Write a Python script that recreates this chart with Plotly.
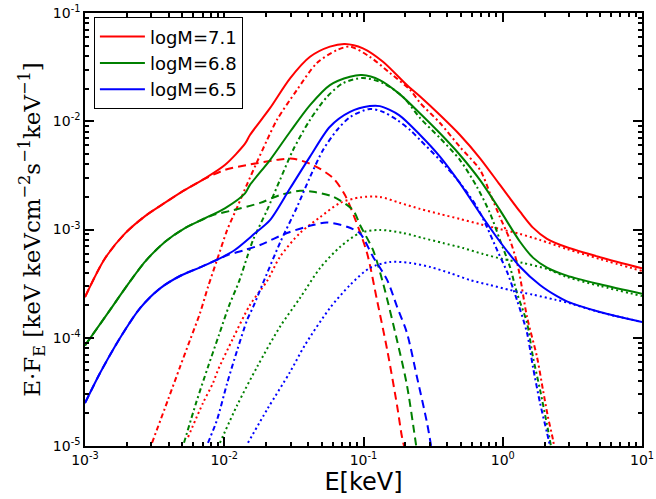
import plotly.graph_objects as go

# ---------------- data ----------------
# logM = 7.1 (red)
E_r_tot = [0.001, 1.39e-3, 1.94e-3, 2.70e-3, 3.76e-3, 5.22e-3, 7.28e-3, 1.01e-2, 1.41e-2, 1.53e-2, 2.13e-2,
           2.97e-2, 4.13e-2, 5.74e-2, 7.36e-2, 9.91e-2, 0.138, 0.205, 0.255, 0.354, 0.493, 0.687, 0.955,
           1.33, 1.648, 2.08, 2.89, 4.99, 10.0]
F_r_tot = [2.38e-4, 5.4e-4, 9.2e-4, 1.33e-3, 1.77e-3, 2.32e-3, 2.97e-3, 3.94e-3, 6.2e-3, 7.46e-3, 1.32e-2,
           2.49e-2, 3.94e-2, 4.89e-2, 5.18e-2, 4.72e-2, 3.55e-2, 2.16e-2, 1.69e-2, 1.14e-2, 7.46e-3, 4.55e-3, 2.58e-3,
           1.46e-3, 1.04e-3, 8.2e-4, 6.85e-4, 5.55e-4, 4.38e-4]
E_r_disk = [0.001, 1.39e-3, 1.94e-3, 2.70e-3, 3.76e-3, 5.22e-3, 7.28e-3, 1.01e-2, 1.46e-2, 2.51e-2, 3.12e-2,
            4.34e-2, 6.04e-2, 7.36e-2, 8.6e-2, 0.106, 0.125, 0.148, 0.174, 0.189, 0.204]
F_r_disk = [2.38e-4, 5.4e-4, 9.2e-4, 1.33e-3, 1.77e-3, 2.32e-3, 2.95e-3, 3.55e-3, 3.94e-3, 4.44e-3, 4.51e-3,
            3.94e-3, 2.99e-3, 2.08e-3, 1.3e-3, 6.07e-4, 2.23e-4, 7.71e-5, 2.39e-5, 1.21e-5, 8e-6]
E_r_warm = [3.03e-3, 3.94e-3, 4.81e-3, 5.68e-3, 6.70e-3, 7.64e-3, 8.87e-3, 1.05e-2, 1.24e-2, 1.46e-2, 1.72e-2,
            2.03e-2, 2.39e-2, 3.33e-2, 4.63e-2, 6.46e-2, 8.0e-2, 0.111, 0.155, 0.216, 0.255, 0.354, 0.493, 0.687,
            0.809, 0.955, 1.127, 1.288, 1.493, 1.762, 1.945, 2.113, 2.296, 2.40]
F_r_warm = [1.07e-5, 2.66e-5, 5.37e-5, 9.53e-5, 1.69e-4, 2.94e-4, 5.22e-4, 9.9e-4, 1.61e-3, 2.63e-3, 4.21e-3,
            6.71e-3, 1.03e-2, 1.95e-2, 3.45e-2, 4.55e-2, 4.89e-2, 3.94e-2, 2.79e-2, 1.95e-2, 1.48e-2, 9.64e-3, 5.78e-3, 3.55e-3,
            2.17e-3, 1.30e-3, 8.0e-4, 4.51e-4, 1.56e-4, 6.64e-5, 3.29e-5, 1.85e-5, 1.14e-5, 8e-6]
E_r_hot = [5.50e-3, 7.03e-3, 8.30e-3, 9.02e-3, 1.16e-2, 1.53e-2, 2.03e-2, 2.51e-2, 3.50e-2, 4.88e-2, 6.78e-2,
           9.44e-2, 0.131, 0.183, 0.255, 0.354, 0.493, 0.687, 0.955, 1.33, 1.854, 2.89, 4.99, 10.0]
F_r_hot = [1.21e-5, 2.49e-5, 3.82e-5, 5.04e-5, 9.95e-5, 2.01e-4, 3.34e-4, 5.57e-4, 9.29e-4, 1.30e-3, 1.76e-3,
           1.98e-3, 2.0e-3, 1.76e-3, 1.55e-3, 1.39e-3, 1.25e-3, 1.12e-3, 1.01e-3, 9.09e-4, 8.0e-4, 6.6e-4, 5.33e-4, 4.14e-4]

# logM = 6.8 (green)
E_g_tot = [0.001, 1.51e-3, 1.94e-3, 2.70e-3, 3.76e-3, 5.22e-3, 7.28e-3, 1.01e-2, 1.41e-2, 1.53e-2, 2.13e-2,
           2.97e-2, 4.13e-2, 5.74e-2, 8.0e-2, 9.75e-2, 0.131, 0.18, 0.255, 0.354, 0.493, 0.687, 0.955,
           1.33, 1.648, 2.08, 2.89, 4.99, 10.0]
F_g_tot = [8.5e-5, 1.80e-4, 2.86e-4, 5.05e-4, 7.71e-4, 1.03e-3, 1.27e-3, 1.57e-3, 2.16e-3, 2.58e-3, 4.38e-3,
           8.0e-3, 1.41e-2, 2.16e-2, 2.58e-2, 2.67e-2, 2.40e-2, 1.8e-2, 1.18e-2, 7.74e-3, 4.88e-3, 2.86e-3, 1.51e-3,
           7.71e-4, 5.5e-4, 4.45e-4, 3.75e-4, 3.12e-4, 2.55e-4]
E_g_disk = [0.001, 1.51e-3, 1.94e-3, 2.70e-3, 3.76e-3, 5.22e-3, 7.28e-3, 8.30e-3, 1.16e-2, 1.81e-2, 2.51e-2,
            3.50e-2, 4.34e-2, 6.04e-2, 8.41e-2, 9.44e-2, 0.117, 0.138, 0.174, 0.205, 0.234, 0.245]
F_g_disk = [8.5e-5, 1.80e-4, 2.86e-4, 5.05e-4, 7.71e-4, 1.03e-3, 1.27e-3, 1.36e-3, 1.51e-3, 1.76e-3, 2.08e-3,
            2.28e-3, 2.23e-3, 2.01e-3, 1.51e-3, 1.10e-3, 6.47e-4, 3.21e-4, 9.5e-5, 3.66e-5, 1.21e-5, 8e-6]
E_g_warm = [5.14e-3, 6.27e-3, 7.64e-3, 9.16e-3, 1.08e-2, 1.28e-2, 1.46e-2, 1.61e-2, 2.03e-2, 2.51e-2, 3.12e-2,
            4.13e-2, 5.47e-2, 7.13e-2, 9.91e-2, 0.138, 0.192, 0.255, 0.354, 0.493, 0.653, 0.809, 0.955, 1.127,
            1.265, 1.493, 1.648, 1.854, 2.113, 2.218]
F_g_warm = [1.07e-5, 2.49e-5, 5.37e-5, 1.06e-4, 1.96e-4, 3.34e-4, 5.57e-4, 8.0e-4, 1.51e-3, 2.86e-3, 5.42e-3,
            1.03e-2, 1.68e-2, 2.25e-2, 2.51e-2, 2.25e-2, 1.68e-2, 1.07e-2, 7.0e-3, 4.38e-3, 2.47e-3, 1.42e-3, 8.0e-4, 4.51e-4,
            2.59e-4, 1.37e-4, 6.64e-5, 3.29e-5, 1.41e-5, 1.0e-5]
E_g_hot = [9.31e-3, 1.24e-2, 1.72e-2, 2.51e-2, 3.50e-2, 4.88e-2, 6.78e-2, 9.44e-2, 0.131, 0.192, 0.267, 0.372,
           0.519, 0.721, 1.005, 1.396, 2.08, 2.89, 4.99, 10.0]
F_g_hot = [1.07e-5, 2.39e-5, 5.37e-5, 1.26e-4, 2.33e-4, 4.41e-4, 6.89e-4, 9.29e-4, 9.9e-4, 9.29e-4, 8.34e-4, 7.5e-4,
           6.74e-4, 5.94e-4, 5.33e-4, 4.91e-4, 4.31e-4, 3.64e-4, 3.01e-4, 2.43e-4]

# logM = 6.5 (blue)
E_b_tot = [0.001, 1.28e-3, 1.78e-3, 2.48e-3, 3.46e-3, 4.81e-3, 6.70e-3, 9.31e-3, 1.19e-2, 1.66e-2, 2.13e-2,
           2.97e-2, 4.13e-2, 5.74e-2, 8.0e-2, 0.111, 0.131, 0.18, 0.255, 0.354, 0.493, 0.687, 0.955,
           1.33, 1.85, 2.45, 2.89, 4.99, 10.0]
F_b_tot = [2.49e-5, 4.70e-5, 9.9e-5, 1.87e-4, 2.86e-4, 3.72e-4, 4.47e-4, 5.42e-4, 6.47e-4, 9.22e-4, 1.22e-3,
           2.40e-3, 4.71e-3, 8.9e-3, 1.22e-2, 1.38e-2, 1.38e-2, 1.14e-2, 7.46e-3, 4.71e-3, 2.67e-3, 1.41e-3, 7.71e-4,
           4.53e-4, 3.07e-4, 2.42e-4, 2.17e-4, 1.73e-4, 1.40e-4]
E_b_disk = [0.001, 1.28e-3, 1.78e-3, 2.48e-3, 3.46e-3, 4.81e-3, 6.70e-3, 9.31e-3, 1.06e-2, 1.41e-2, 1.81e-2,
            2.82e-2, 4.34e-2, 5.47e-2, 7.62e-2, 9.44e-2, 0.117, 0.148, 0.174, 0.205, 0.242, 0.286, 0.310]
F_b_disk = [2.49e-5, 4.70e-5, 9.9e-5, 1.87e-4, 2.86e-4, 3.72e-4, 4.47e-4, 5.4e-4, 5.81e-4, 6.47e-4, 7.19e-4,
            9.29e-4, 1.10e-3, 1.16e-3, 1.06e-3, 9.2e-4, 5.61e-4, 3.41e-4, 1.94e-4, 1.11e-4, 4.34e-5, 1.63e-5, 9e-6]
E_b_warm = [7.64e-3, 8.87e-3, 1.05e-2, 1.24e-2, 1.46e-2, 1.61e-2, 1.90e-2, 2.51e-2, 3.33e-2, 4.13e-2, 5.12e-2,
            6.46e-2, 8.0e-2, 0.111, 0.138, 0.174, 0.216, 0.255, 0.354, 0.493, 0.653, 0.771, 0.910, 1.074,
            1.265, 1.493, 1.648, 1.854, 2.080, 2.183]
F_b_warm = [1.07e-5, 1.74e-5, 3.82e-5, 7.71e-5, 1.46e-4, 1.92e-4, 3.21e-4, 7.5e-4, 1.61e-3, 3.05e-3, 5.42e-3,
            8.3e-3, 1.09e-2, 1.30e-2, 1.22e-2, 1.03e-2, 8.3e-3, 6.71e-3, 4.38e-3, 2.69e-3, 1.61e-3, 1.05e-3, 6.47e-4, 4.05e-4,
            2.23e-4, 1.11e-4, 5.37e-5, 2.49e-5, 1.32e-5, 1.0e-5]
E_b_hot = [1.48e-2, 2.06e-2, 2.97e-2, 3.80e-2, 5.74e-2, 8.0e-2, 0.111, 0.155, 0.216, 0.301, 0.418, 0.582,
           0.809, 1.127, 1.648, 2.371, 2.89, 4.99, 10.0]
F_b_hot = [1.07e-5, 2.24e-5, 4.83e-5, 8.57e-5, 1.88e-4, 3.07e-4, 4.41e-4, 5.01e-4, 4.91e-4, 4.51e-4, 3.96e-4, 3.41e-4,
           3.07e-4, 2.76e-4, 2.5e-4, 2.25e-4, 2.12e-4, 1.72e-4, 1.40e-4]

labels = ["logM=7.1", "logM=6.8", "logM=6.5"]
colors = ["#ff0000", "#008000", "#0000ff"]

x_tickvals = [1e-3, 1e-2, 1e-1, 1e0, 1e1]
x_ticktext = ["10<sup>-3</sup>", "10<sup>-2</sup>", "10<sup>-1</sup>", "10<sup>0</sup>", "10<sup>1</sup>"]
y_tickvals = [1e-5, 1e-4, 1e-3, 1e-2, 1e-1]
y_ticktext = ["10<sup>-5</sup>", "10<sup>-4</sup>", "10<sup>-3</sup>", "10<sup>-2</sup>", "10<sup>-1</sup>"]

# ---------------- figure ----------------
series = [
    (E_r_tot, F_r_tot, E_r_disk, F_r_disk, E_r_warm, F_r_warm, E_r_hot, F_r_hot),
    (E_g_tot, F_g_tot, E_g_disk, F_g_disk, E_g_warm, F_g_warm, E_g_hot, F_g_hot),
    (E_b_tot, F_b_tot, E_b_disk, F_b_disk, E_b_warm, F_b_warm, E_b_hot, F_b_hot),
]

fig = go.Figure()
DASH = "8px,5px"
DOT = "2px,3px"
DASHDOT = "5px,3px,2px,3px"

for (et, ft, ed, fd, ew, fw, eh, fh), lab, col in zip(series, labels, colors):
    fig.add_trace(go.Scatter(x=et, y=ft, mode="lines", name=lab,
                             line=dict(color=col, width=2, shape="spline", smoothing=0.8)))
    fig.add_trace(go.Scatter(x=ed, y=fd, mode="lines", showlegend=False,
                             line=dict(color=col, width=2, dash=DASH, shape="spline", smoothing=0.8)))
    fig.add_trace(go.Scatter(x=ew, y=fw, mode="lines", showlegend=False,
                             line=dict(color=col, width=2, dash=DASHDOT, shape="spline", smoothing=0.8)))
    fig.add_trace(go.Scatter(x=eh, y=fh, mode="lines", showlegend=False,
                             line=dict(color=col, width=2, dash=DOT, shape="spline", smoothing=0.8)))

minor_vals_x = [m * 10.0 ** k for k in range(-3, 1) for m in range(2, 10)]
minor_vals_y = [m * 10.0 ** k for k in range(-5, -1) for m in range(2, 10)]

axis_common = dict(
    type="log", showgrid=False, zeroline=False, automargin=False,
    showline=True, linecolor="black", linewidth=1.5, mirror="allticks",
    ticks="inside", ticklen=9, tickwidth=1.5, tickcolor="black",
    tickmode="array",
    tickfont=dict(family="DejaVu Sans", size=14, color="black"),
)

fig.update_xaxes(
    **axis_common, range=[-3, 1], tickvals=x_tickvals, ticktext=x_ticktext,
    minor=dict(tickmode="array", tickvals=minor_vals_x, ticks="inside", ticklen=4.5,
               tickwidth=1.5, tickcolor="black", showgrid=False),
    title=dict(text="E[keV]", font=dict(family="DejaVu Sans", size=24, color="black"), standoff=4),
)
fig.update_yaxes(
    **axis_common, range=[-5, -1], tickvals=y_tickvals, ticktext=y_ticktext,
    minor=dict(tickmode="array", tickvals=minor_vals_y, ticks="inside", ticklen=4.5,
               tickwidth=1.5, tickcolor="black", showgrid=False),
    title=dict(text="E·F<sub>E</sub> [keV keVcm<sup>−2</sup>s<sup>−1</sup>keV<sup>−1</sup>]",
               font=dict(family="DejaVu Serif", size=23, color="black"), standoff=6),
)

fig.update_layout(
    width=656, height=499,
    margin=dict(l=85, r=14, t=13, b=53),
    paper_bgcolor="white", plot_bgcolor="white",
    showlegend=True,
    legend=dict(x=0.016, y=0.99, xanchor="left", yanchor="top",
                bgcolor="white", bordercolor="black", borderwidth=1,
                font=dict(family="DejaVu Sans", size=18, color="black"),
                itemwidth=45, tracegroupgap=0),
)

fig.write_html("out.html")
